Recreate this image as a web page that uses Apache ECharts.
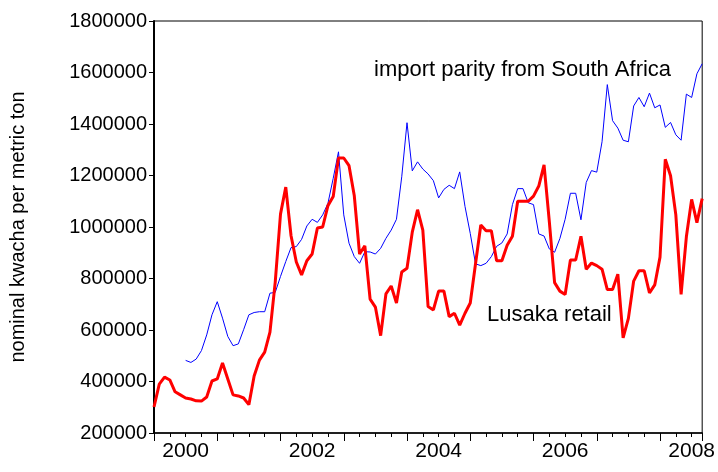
<!DOCTYPE html>
<html lang="en">
<head>
  <meta charset="UTF-8">
  <title>Lusaka retail vs import parity</title>
  <script src="https://cdn.jsdelivr.net/npm/echarts@6/dist/echarts.min.js"></script>
  <style>
    body { margin: 0; background: #fff; }
    #chart { width: 718px; height: 472px; }
  </style>
</head>
<body>
  <div id="chart"></div>
  <script>
    // months counted from Jan 2000 (0) to Sep 2008 (104), values in thousand kwacha
    const lusakaRetail = [
      301, 390, 417, 406, 360, 348, 336, 332, 325, 324, 340, 402,
      410, 472, 410, 348, 344, 336, 310, 421, 483, 514, 592, 786,
      1050, 1155, 966, 864, 814, 869, 895, 996, 1000, 1083, 1118, 1268,
      1268, 1238, 1121, 895, 927, 720, 689, 578, 740, 771, 705, 825,
      840, 980, 1067, 988, 691, 678, 751, 751, 652, 665, 619, 665,
      705, 857, 1008, 985, 985, 869, 869, 929, 964, 1100, 1100, 1100,
      1120, 1159, 1241, 1021, 784, 751, 738, 872, 872, 964, 836, 860,
      850, 836, 757, 757, 817, 569, 645, 790, 830, 830, 744, 775,
      883, 1263, 1199, 1047, 738, 962, 1107, 1017, 1110
    ];
    const importParity = [
      null, null, null, null, null, null, 482, 474, 487, 520, 581, 659,
      710, 646, 575, 539, 546, 601, 659, 668, 671, 671, 743, 746,
      808, 866, 920, 924, 952, 1004, 1030, 1018, 1047, 1092, 1189, 1292,
      1047, 937, 885, 859, 904, 903, 895, 917, 956, 988, 1030, 1195,
      1405, 1218, 1253, 1225, 1206, 1180, 1113, 1146, 1162, 1149, 1214, 1080,
      975, 857, 850, 859, 885, 925, 938, 973, 1087, 1149, 1149, 1094,
      1087, 973, 965, 915, 902, 955, 1030, 1131, 1131, 1028, 1173, 1219,
      1213, 1331, 1553, 1413, 1384, 1337, 1331, 1470, 1503, 1467, 1520, 1463,
      1474, 1387, 1406, 1358, 1337, 1516, 1503, 1595, 1634
    ];
    const firstYear = 2000;

    const toPoints = arr => arr.map((v, i) => [i, v == null ? null : v * 1000]);

    const chart = echarts.init(document.getElementById('chart'));
    const font = 'Liberation Sans, Arial, sans-serif';
    chart.setOption({
      animation: false,
      grid: {
        left: 154, right: 8, top: 21, bottom: 39,
        show: true, borderColor: '#000', borderWidth: 1
      },
      xAxis: [{
        type: 'value', min: 0, max: 104, interval: 3,
        axisLine: { show: true, onZero: false, lineStyle: { color: '#000', width: 1.5 } },
        axisTick: { show: true, length: 4, lineStyle: { color: '#000' } },
        splitLine: { show: false },
        axisLabel: {
          color: '#000', fontSize: 21, fontFamily: font, margin: 8,
          showMaxLabel: false,
          formatter: v => (v % 24 === 6 ? String(firstYear + (v - 6) / 12) : '')
        }
      }, {
        type: 'value', min: 0, max: 104, interval: 12,
        position: 'bottom',
        axisLine: { show: false },
        axisTick: { show: true, length: 8, lineStyle: { color: '#000' } },
        axisLabel: { show: false },
        splitLine: { show: false }
      }],
      yAxis: {
        type: 'value', min: 200000, max: 1800000, interval: 200000,
        name: 'nominal kwacha per metric ton',
        nameLocation: 'middle', nameGap: 126, nameRotate: 90,
        nameTextStyle: { color: '#000', fontSize: 20, fontFamily: font },
        axisLine: { show: true, lineStyle: { color: '#000', width: 2 } },
        axisTick: { show: true, inside: false, length: 5, lineStyle: { color: '#000' } },
        splitLine: { show: false },
        axisLabel: {
          color: '#000', fontSize: 20, fontFamily: font, margin: 7,
          formatter: v => String(v)
        }
      },
      series: [{
        type: 'line', name: 'import parity from South Africa',
        data: toPoints(importParity), showSymbol: false,
        lineStyle: { color: '#0000ff', width: 1 }, z: 2
      }, {
        type: 'line', name: 'Lusaka retail',
        data: toPoints(lusakaRetail), showSymbol: false,
        lineStyle: { color: '#ff0000', width: 3 }, z: 3
      }],
      graphic: [{
        type: 'text', left: 374, top: 59,
        style: { text: 'import parity from South Africa', fill: '#000', font: '22px ' + font }
      }, {
        type: 'text', left: 487, top: 304,
        style: { text: 'Lusaka retail', fill: '#000', font: '22px ' + font }
      }]
    });
  </script>
</body>
</html>
